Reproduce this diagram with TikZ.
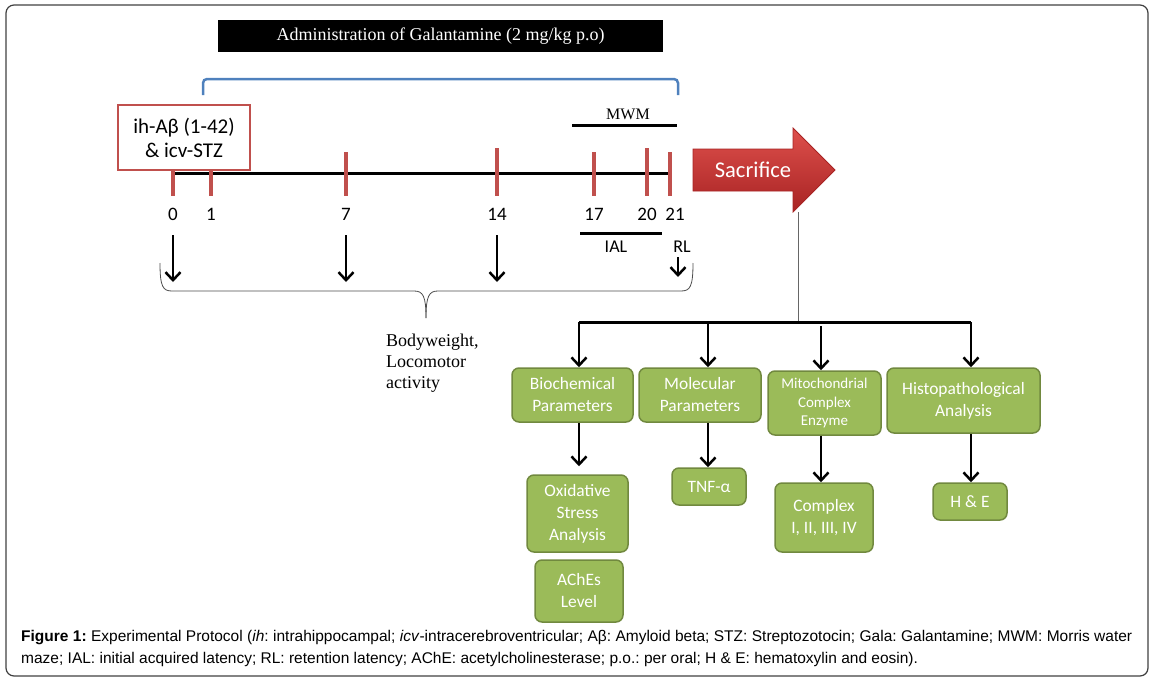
\documentclass[tikz,border=0pt]{standalone}
\usepackage{fontspec}
\setmainfont{Liberation Serif}
\newfontfamily\calibri{Carlito}
\newfontfamily\arial{Liberation Sans}
\usetikzlibrary{arrows.meta}
\definecolor{tickred}{HTML}{C0504D}
\definecolor{bracketblue}{HTML}{4F81BD}
\definecolor{boxgreen}{HTML}{9BBB59}
\definecolor{boxedge}{HTML}{71893F}
\definecolor{sactop}{HTML}{DE504C}
\definecolor{sacbot}{HTML}{A82323}

\begin{document}
\begin{tikzpicture}[x=1pt,y=1pt,
  day/.style={font=\calibri\fontsize{19}{22}\selectfont, inner sep=0pt},
  tick/.style={tickred, line width=3.5pt},
  heavy/.style={line width=3pt},
  arr/.style={line width=2.5pt, -{Straight Barb[length=8pt,width=15pt,line width=2.5pt]}},
  brace/.style={draw=black!70, line width=0.8pt},
  box/.style={draw=boxedge, fill=boxgreen, line width=1.5pt, rounded corners=7pt,
    text=white, align=center, inner sep=2pt,
    font=\calibri\fontsize{17.4}{22}\selectfont},
  caption/.style={anchor=north west, inner sep=0pt, text width=1111pt, align=justify,
    font=\arial\fontsize{15.5}{22}\selectfont\frenchspacing}]
\useasboundingbox (0,0) rectangle (1152,-680);
\draw[black!75, line width=1.2pt, rounded corners=8pt] (6,-5) rectangle (1148,-676);

% treatment period
\node[fill=black, text=white, minimum width=445pt, minimum height=32pt,
  font=\fontsize{18}{20}\selectfont] (gala) at (440.5,-36) {Administration of Galantamine (2 mg/kg p.o)};
\draw[bracketblue, line width=2.5pt, rounded corners=4pt] (203,-95) -- (203,-79) -- (678,-79) -- (678,-95);

% timeline
\draw[heavy] (175,-173) -- (668,-173);
\foreach \x/\t/\lx/\lab in {173/152/173/0, 211/152/211/1, 346/152/346/7, 497/148/497/14,
    594/152/594/17, 647/148/647/20, 670/152/675/21} {
  \draw[tick] (\x,-\t) -- (\x,-196);
  \node[day] (d\lab) at (\lx,-214) {\lab};
}
\node[draw=tickred, fill=white, line width=1.5pt, minimum width=132pt, minimum height=65pt,
  align=center, font=\calibri\fontsize{21}{24}\selectfont] (inj) at (184,-137.5) {ih-Aβ (1-42)\\\& icv-STZ};

\node[font=\fontsize{16}{18}\selectfont] (mwm) at (628,-114) {MWM};
\draw[heavy] (572,-125) -- (677,-125);
\draw[heavy] (580,-233) -- (662,-233);
\node[day, font=\calibri\fontsize{18}{20}\selectfont] (ial) at (616,-247) {IAL};
\node[day, font=\calibri\fontsize{18}{20}\selectfont] (rl) at (682,-247) {RL};

\foreach \d in {0,7,14}
  \draw[arr] ([yshift=-21pt]d\d.center) -- ++(0,-47);
\draw[arr] ([xshift=-4pt,yshift=-10pt]rl.center) -- ++(0,-20);

\draw[brace] (160,-263) .. controls (160,-287) and (163,-291) .. (172,-291) -- (414,-291)
  .. controls (423,-291) and (426,-296) .. (426,-318);
\draw[brace] (426,-318) .. controls (426,-296) and (429,-291) .. (438,-291) -- (681,-291)
  .. controls (690,-291) and (693,-287) .. (693,-263);
\node[anchor=west, align=left, inner sep=0pt, font=\fontsize{18}{21}\selectfont] (body) at (386,-363)
  {Bodyweight,\\Locomotor\\activity};

% sacrifice
\shadedraw[draw=sacbot, line width=0.8pt, top color=sactop, bottom color=sacbot]
  (693,-149) -- (793,-149) -- (793,-128) -- (835,-170) -- (793,-212) -- (793,-191) -- (693,-191) -- cycle;
\node[text=white, font=\calibri\fontsize{22.5}{24}\selectfont] (sac) at (753,-170) {Sacrifice};
\coordinate (sacfoot) at (798,-212);
\coordinate (split) at (798,-322);
\draw[black!60, line width=1pt] (sacfoot) -- (split);

% analyses
\coordinate (b1) at (579,-322);
\coordinate (b2) at (708,-322);
\coordinate (b3) at (821,-322);
\coordinate (b4) at (971,-322);
\draw[heavy] (b1) -- (b4);

\node[box, minimum width=121pt, minimum height=54pt] (bio) at (572.5,-395) {Biochemical\\Parameters};
\node[box, minimum width=122pt, minimum height=54pt] (mol) at (700,-395) {Molecular\\Parameters};
\node[box, minimum width=113pt, minimum height=64pt, font=\calibri\fontsize{15}{18.5}\selectfont] (mito) at (824.5,-403) {Mitochondrial\\Complex\\Enzyme};
\node[box, minimum width=153pt, minimum height=65pt] (hist) at (963.5,-400.5) {Histopathological\\Analysis};
\node[box, minimum width=101pt, minimum height=77pt] (oxi) at (577.5,-513.5) {Oxidative\\Stress\\Analysis};
\node[box, minimum width=88pt, minimum height=62pt] (ache) at (579,-591) {AChEs\\Level};
\node[box, minimum width=74pt, minimum height=37pt] (tnf) at (709,-486.5) {TNF-α};
\node[box, minimum width=98pt, minimum height=69pt] (cplx) at (824,-517.5) {Complex\\I, II, III, IV};
\node[box, minimum width=74pt, minimum height=37pt] (he) at (970,-501.5) {H \& E};

\draw[arr] (b1) -- (b1 |- bio.north);
\draw[arr] (b2) -- (b2 |- mol.north);
\draw[arr] ([yshift=-4pt]b3) -- (b3 |- mito.north);
\draw[arr] (b4) -- (b4 |- hist.north);
\draw[arr, shorten >=8pt] (b1 |- bio.south) -- (b1 |- oxi.north);
\draw[arr] (b2 |- mol.south) -- (b2 |- tnf.north);
\draw[arr] (b3 |- mito.south) -- (b3 |- cplx.north);
\draw[arr] (b4 |- hist.south) -- (b4 |- he.north);

\node[caption] (cap) at (21,-630) {\textbf{Figure 1:} Experimental Protocol (\textit{ih}: intrahippocampal; \textit{icv}-intracerebroventricular; Aβ: Amyloid beta; STZ: Streptozotocin; Gala: Galantamine; MWM: Morris water\linebreak maze; IAL: initial acquired latency; RL: retention latency; AChE: acetylcholinesterase; p.o.: per oral; H \& E: hematoxylin and eosin).};
\end{tikzpicture}
\end{document}
